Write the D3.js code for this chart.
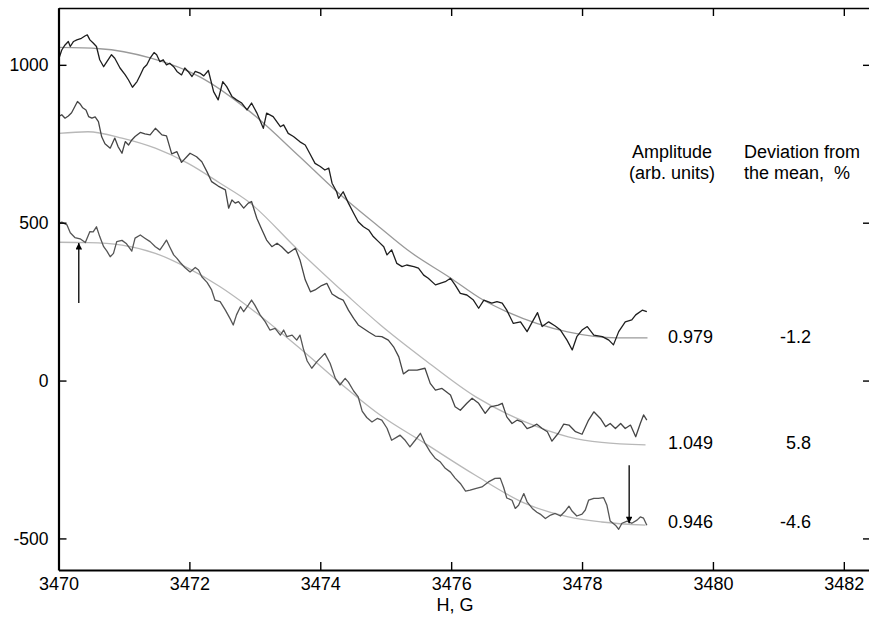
<!DOCTYPE html>
<html>
<head>
<meta charset="utf-8">
<script src="https://cdn.jsdelivr.net/npm/d3@7/dist/d3.min.js"></script>
<style>
  html, body { margin: 0; padding: 0; background: #fff; }
  svg { display: block; font-family: "Liberation Sans", Arial, Helvetica, sans-serif; }
</style>
</head>
<body>
<svg id="chart" width="869" height="618"></svg>
<script>
// ---------------- DATA ----------------
const fieldTicks = [3470, 3472, 3474, 3476, 3478, 3480, 3482];
const signalTicks = [-500, 0, 500, 1000];

// Top spectrum (measured, darkest)
const spectrumTop = [
[3470.00,1016],[3470.05,1047],[3470.10,1063],[3470.15,1074],[3470.18,1058],[3470.23,1074],[3470.28,1079],
[3470.35,1084],[3470.41,1092],[3470.44,1095],[3470.48,1079],[3470.53,1069],[3470.58,1058],[3470.63,1016],
[3470.69,994],[3470.74,1010],[3470.81,1032],[3470.86,1021],[3470.94,990],[3471.02,968],[3471.07,952],
[3471.13,929],[3471.20,947],[3471.25,968],[3471.30,990],[3471.35,1000],[3471.40,1021],[3471.46,1039],
[3471.50,1032],[3471.55,1010],[3471.60,1016],[3471.65,1000],[3471.70,1005],[3471.76,994],[3471.81,979],
[3471.88,968],[3471.93,990],[3471.98,979],[3472.04,963],[3472.09,979],[3472.16,974],[3472.22,965],
[3472.29,982],[3472.37,915],[3472.44,889],[3472.51,947],[3472.57,931],[3472.65,900],[3472.72,889],
[3472.80,879],[3472.88,857],[3472.95,879],[3473.03,848],[3473.13,799],[3473.18,847],[3473.28,836],
[3473.39,804],[3473.44,810],[3473.51,783],[3473.59,773],[3473.69,756],[3473.77,746],[3473.85,715],
[3473.92,688],[3474.00,678],[3474.07,667],[3474.13,673],[3474.18,625],[3474.25,598],[3474.28,577],
[3474.35,598],[3474.43,562],[3474.51,530],[3474.58,503],[3474.66,487],[3474.74,477],[3474.81,456],
[3474.89,440],[3474.97,424],[3475.02,398],[3475.09,414],[3475.17,371],[3475.25,361],[3475.32,366],
[3475.43,361],[3475.50,356],[3475.58,334],[3475.65,324],[3475.76,303],[3475.83,308],[3475.91,313],
[3475.99,324],[3476.06,303],[3476.14,276],[3476.24,271],[3476.34,255],[3476.42,229],[3476.50,255],
[3476.62,245],[3476.70,250],[3476.78,245],[3476.85,223],[3476.95,181],[3477.06,186],[3477.16,155],
[3477.24,186],[3477.32,215],[3477.39,171],[3477.49,186],[3477.59,173],[3477.67,160],[3477.77,128],
[3477.85,97],[3477.92,139],[3478.00,160],[3478.08,171],[3478.18,144],[3478.31,139],[3478.41,128],
[3478.48,113],[3478.56,155],[3478.66,186],[3478.76,192],[3478.82,208],[3478.92,223],[3478.99,218]
];

// Middle spectrum (measured)
const spectrumMid = [
[3470.00,836],[3470.05,842],[3470.10,831],[3470.15,838],[3470.20,848],[3470.25,868],[3470.29,884],
[3470.33,876],[3470.37,864],[3470.42,857],[3470.46,836],[3470.51,831],[3470.56,835],[3470.61,820],
[3470.66,772],[3470.71,750],[3470.79,736],[3470.86,768],[3470.91,741],[3470.97,720],[3471.02,757],
[3471.07,746],[3471.12,762],[3471.17,773],[3471.25,786],[3471.32,781],[3471.40,778],[3471.48,799],
[3471.53,789],[3471.58,778],[3471.65,775],[3471.73,718],[3471.81,725],[3471.88,691],[3471.96,709],
[3472.01,720],[3472.11,709],[3472.19,693],[3472.27,661],[3472.34,630],[3472.44,616],[3472.55,604],
[3472.60,546],[3472.65,572],[3472.70,562],[3472.75,567],[3472.83,546],[3472.90,562],[3472.95,567],
[3473.03,514],[3473.11,477],[3473.18,445],[3473.26,424],[3473.34,435],[3473.41,424],[3473.51,403],
[3473.62,419],[3473.69,382],[3473.77,319],[3473.85,281],[3473.92,287],[3474.02,301],[3474.10,308],
[3474.18,274],[3474.28,261],[3474.35,255],[3474.43,223],[3474.51,197],[3474.58,176],[3474.66,165],
[3474.74,154],[3474.84,141],[3474.94,139],[3475.04,128],[3475.12,107],[3475.20,75],[3475.27,21],
[3475.35,33],[3475.48,33],[3475.60,39],[3475.68,-9],[3475.76,-30],[3475.86,-25],[3475.99,-46],
[3476.06,-83],[3476.14,-94],[3476.24,-72],[3476.32,-56],[3476.42,-72],[3476.52,-104],[3476.60,-83],
[3476.72,-78],[3476.78,-72],[3476.85,-115],[3476.93,-136],[3477.01,-125],[3477.08,-131],[3477.16,-152],
[3477.24,-146],[3477.31,-138],[3477.39,-152],[3477.47,-162],[3477.54,-192],[3477.64,-166],[3477.72,-138],
[3477.80,-141],[3477.90,-162],[3478.00,-170],[3478.10,-125],[3478.18,-99],[3478.28,-120],[3478.36,-146],
[3478.43,-136],[3478.51,-152],[3478.59,-136],[3478.66,-152],[3478.74,-141],[3478.82,-178],[3478.89,-136],
[3478.94,-109],[3478.99,-125]
];

// Bottom spectrum (measured)
const spectrumBottom = [
[3470.00,498],[3470.05,502],[3470.13,493],[3470.18,468],[3470.25,453],[3470.33,449],[3470.41,437],
[3470.48,472],[3470.53,471],[3470.58,487],[3470.63,456],[3470.69,424],[3470.74,410],[3470.79,392],
[3470.84,403],[3470.89,440],[3470.97,444],[3471.04,433],[3471.12,410],[3471.17,451],[3471.25,461],
[3471.32,451],[3471.40,440],[3471.48,424],[3471.55,414],[3471.60,429],[3471.65,445],[3471.70,423],
[3471.76,398],[3471.81,387],[3471.86,374],[3471.93,358],[3472.01,344],[3472.09,358],[3472.14,350],
[3472.19,329],[3472.27,311],[3472.34,287],[3472.39,255],[3472.47,250],[3472.55,223],[3472.62,197],
[3472.67,176],[3472.72,208],[3472.78,234],[3472.83,218],[3472.90,239],[3472.95,255],[3473.00,239],
[3473.08,208],[3473.16,186],[3473.23,160],[3473.31,165],[3473.39,144],[3473.44,160],[3473.49,139],
[3473.57,144],[3473.64,128],[3473.69,144],[3473.74,102],[3473.80,62],[3473.87,39],[3473.95,60],
[3474.02,75],[3474.07,86],[3474.15,55],[3474.23,7],[3474.30,-14],[3474.38,7],[3474.43,-5],
[3474.51,-33],[3474.58,-52],[3474.64,-97],[3474.71,-117],[3474.79,-131],[3474.87,-120],[3474.94,-125],
[3475.02,-151],[3475.09,-189],[3475.17,-179],[3475.22,-173],[3475.30,-190],[3475.37,-210],[3475.45,-189],
[3475.53,-167],[3475.60,-198],[3475.68,-226],[3475.76,-247],[3475.83,-257],[3475.91,-278],[3475.99,-290],
[3476.06,-309],[3476.14,-326],[3476.22,-350],[3476.29,-347],[3476.37,-342],[3476.47,-337],[3476.57,-321],
[3476.67,-310],[3476.75,-309],[3476.80,-337],[3476.85,-372],[3476.93,-379],[3476.98,-405],[3477.03,-395],
[3477.11,-358],[3477.16,-384],[3477.24,-405],[3477.31,-417],[3477.36,-423],[3477.44,-437],[3477.52,-426],
[3477.59,-421],[3477.67,-429],[3477.74,-414],[3477.80,-398],[3477.85,-414],[3477.92,-429],[3478.00,-423],
[3478.05,-410],[3478.10,-379],[3478.18,-373],[3478.25,-373],[3478.33,-371],[3478.38,-395],[3478.43,-445],
[3478.51,-458],[3478.56,-471],[3478.61,-452],[3478.69,-445],[3478.76,-452],[3478.84,-442],[3478.89,-432],
[3478.94,-436],[3478.99,-458]
];

// Fitted curves
const fitTop = [
[3470.00,1055],[3470.63,1051],[3471.40,1022],[3472.16,962],[3472.93,851],[3473.69,708],[3474.26,597],
[3474.92,483],[3475.33,414],[3475.99,325],[3476.49,255],[3476.86,217],[3477.78,154],[3478.54,135],[3479.00,135]
];
const fitMid = [
[3470.00,783],[3470.45,788],[3470.97,768],[3471.48,736],[3471.98,688],[3472.47,625],[3472.90,567],
[3473.66,414],[3474.43,266],[3474.92,176],[3475.60,65],[3476.37,-51],[3477.13,-131],[3477.79,-178],
[3478.30,-196],[3478.97,-204]
];
const fitBottom = [
[3470.00,438],[3470.46,437],[3470.97,429],[3471.48,403],[3471.98,356],[3472.47,297],[3472.90,234],
[3473.66,107],[3474.43,-30],[3474.92,-110],[3475.60,-199],[3476.37,-300],[3477.13,-389],[3477.79,-432],
[3478.30,-448],[3478.97,-458]
];

// Arrows: [x, fromY, toY]
const arrows = [[3470.31, 246, 436], [3478.72, -268, -452]];

const amplitudes = ["0.979", "1.049", "0.946"];
const deviations = ["-1.2", "5.8", "-4.6"];

// ---------------- CHART ----------------
const svg = d3.select("#chart");
const padL = 58.5, padR = 870, padT = 8, padB = 570;

const x = d3.scaleLinear().domain([3470, 3482.4]).range([padL, padR]);
const y = d3.scaleLinear().domain([-600, 1180]).range([padB, padT]);

// arrow marker
const defs = svg.append("defs");
defs.append("marker")
  .attr("id", "head").attr("viewBox", "0 0 10 10")
  .attr("refX", 10).attr("refY", 5)
  .attr("markerWidth", 10).attr("markerHeight", 6.5)
  .attr("markerUnits", "userSpaceOnUse")
  .attr("orient", "auto")
  .append("path").attr("d", "M0,0 L10,5 L0,10 Z").attr("fill", "#000");

const line = d3.line().x(d => x(d[0])).y(d => y(d[1]));
const smooth = d3.line().x(d => x(d[0])).y(d => y(d[1])).curve(d3.curveMonotoneX);

// fits first (under data)
svg.append("path").datum(fitTop).attr("d", smooth)
  .attr("fill", "none").attr("stroke", "#9a9a9a").attr("stroke-width", 1.3);
svg.append("path").datum(fitMid).attr("d", smooth)
  .attr("fill", "none").attr("stroke", "#b8b8b8").attr("stroke-width", 1.3);
svg.append("path").datum(fitBottom).attr("d", smooth)
  .attr("fill", "none").attr("stroke", "#b8b8b8").attr("stroke-width", 1.3);

svg.append("path").datum(spectrumTop).attr("d", line)
  .attr("fill", "none").attr("stroke", "#1e1e1e").attr("stroke-width", 1.3).attr("stroke-linejoin", "round");
svg.append("path").datum(spectrumMid).attr("d", line)
  .attr("fill", "none").attr("stroke", "#454545").attr("stroke-width", 1.3).attr("stroke-linejoin", "round");
svg.append("path").datum(spectrumBottom).attr("d", line)
  .attr("fill", "none").attr("stroke", "#555555").attr("stroke-width", 1.3).attr("stroke-linejoin", "round");

// arrows
svg.selectAll(".arrow").data(arrows).enter().append("line")
  .attr("class", "arrow")
  .attr("x1", d => x(d[0])).attr("x2", d => x(d[0]))
  .attr("y1", d => y(d[1])).attr("y2", d => y(d[2]))
  .attr("stroke", "#000").attr("stroke-width", 1.3)
  .attr("marker-end", "url(#head)");

// axes (plain hyphen-minus labels, as in the original)
const fmt = d => String(d);
const gx = svg.append("g").attr("transform", `translate(0,${padB})`)
  .call(d3.axisBottom(x).tickValues(fieldTicks).tickFormat(fmt)
    .tickSize(-8).tickSizeOuter(0).tickPadding(7));
const gy = svg.append("g").attr("transform", `translate(${padL},0)`)
  .call(d3.axisLeft(y).tickValues(signalTicks).tickFormat(fmt)
    .tickSize(-8).tickSizeOuter(0).tickPadding(10));
const gt = svg.append("g").attr("transform", `translate(0,${padT})`)
  .call(d3.axisTop(x).tickValues(fieldTicks).tickFormat("").tickSize(-8).tickSizeOuter(0));
const gr = svg.append("g").attr("transform", `translate(${padR},0)`)
  .call(d3.axisRight(y).tickValues(signalTicks).tickFormat("").tickSize(-7).tickSizeOuter(0));

[gx, gy, gt, gr].forEach(g => {
  g.selectAll(".tick line").attr("stroke", "#000").attr("stroke-width", 1.4);
  g.selectAll(".tick text").attr("fill", "#000").attr("font-family", "Liberation Sans, Arial, sans-serif");
});
gx.selectAll(".tick text").attr("font-size", 18);
gy.selectAll(".tick text").attr("font-size", 17.5);
gx.select(".domain").attr("stroke", "#000").attr("stroke-width", 2.2);
gy.select(".domain").attr("stroke", "#000").attr("stroke-width", 2.2);
gt.select(".domain").attr("stroke", "#000").attr("stroke-width", 1.6);
gr.select(".domain").attr("stroke", "#000").attr("stroke-width", 1.6);

// x-axis title
svg.append("text").attr("x", 455).attr("y", 611).attr("text-anchor", "middle")
  .attr("font-size", 18).attr("fill", "#000").text("H, G");

// annotation headers
const ann = svg.append("g").attr("font-size", 18).attr("fill", "#000");
ann.append("text").attr("x", 672).attr("y", 158).attr("text-anchor", "middle").text("Amplitude");
ann.append("text").attr("x", 672).attr("y", 179).attr("text-anchor", "middle").text("(arb. units)");
ann.append("text").attr("x", 744).attr("y", 158).text("Deviation from");
ann.append("text").attr("x", 744).attr("y", 179).attr("xml:space", "preserve").text("the mean,  %");

const rowsY = [343, 449, 528];
ann.selectAll(".amp").data(amplitudes).enter().append("text")
  .attr("class", "amp").attr("x", 668).attr("y", (d, i) => rowsY[i]).text(d => d);
ann.selectAll(".dev").data(deviations).enter().append("text")
  .attr("class", "dev").attr("x", 811).attr("y", (d, i) => rowsY[i])
  .attr("text-anchor", "end").text(d => d);
</script>
</body>
</html>
